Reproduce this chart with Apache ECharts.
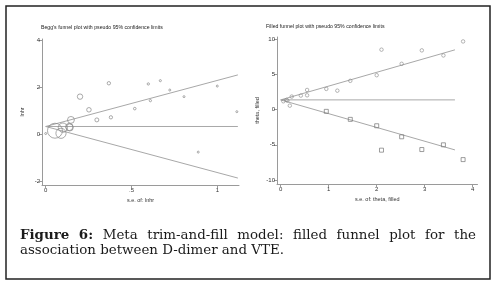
<!DOCTYPE html>
<html><head><meta charset="utf-8">
<script src="https://cdn.jsdelivr.net/npm/echarts@6/dist/echarts.min.js"></script>
<style>html,body{margin:0;padding:0;background:#fff}#c{width:496px;height:287px}</style>
</head><body><div id="c"></div>
<script>
// ---- Left panel: Begg's funnel plot ----
const beggSe     = [0.000,0.054,0.089,0.100,0.137,0.140,0.147,0.200,0.252,0.298,0.368,0.380,0.519,0.598,0.610,0.668,0.723,0.806,0.889,1.000,1.114];
const beggLnhr   = [0.02, 0.14, 0.03, 0.27, 0.30, 0.28, 0.60, 1.59, 1.03, 0.60, 2.16, 0.71, 1.08, 2.13, 1.42, 2.27, 1.87, 1.59,-0.77, 2.04, 0.95];
const beggPooled = 0.32;
const beggSeMax  = 1.12;
const beggXTicks = [0, 0.5, 1];
const beggYTicks = [-2, 0, 2, 4];

// ---- Right panel: filled funnel plot ----
const obsSe      = [0.055,0.12,0.14,0.19,0.23,0.42,0.55,0.55,0.95,1.18,1.45,2.00,2.10,2.52,2.94,3.39,3.80];
const obsTheta   = [1.19, 1.38,1.29,0.57,1.86,2.00,2.04,2.80,2.95,2.70,4.10,4.90,8.53,6.52,8.43,7.71,9.70];
const fillSe     = [0.95, 1.45, 2.00, 2.10, 2.52, 2.94, 3.39, 3.80];
const fillTheta  = [-0.24,-1.38,-2.29,-5.76,-3.86,-5.67,-5.00,-7.10];
const filledPooled = 1.39;
const filledSeMax  = 3.63;
const filledXTicks = [0, 1, 2, 3, 4];
const filledYTicks = [-10, -5, 0, 5, 10];

const captionLine1 = ['Figure 6:', 'Meta trim-and-fill model: filled funnel plot for the'];
const captionLine2 = 'association between D-dimer and VTE.';

// ------------------------------------------------------------
const zip = (a, b) => a.map((v, i) => [v, b[i]]);
const axisCol = '#9a9a9a', txtCol = '#333', sans = 'Liberation Sans';
const Z = 1.96;

function ciLines(pooled, seMax, xi, yi) {
  const base = {type: 'line', xAxisIndex: xi, yAxisIndex: yi, symbol: 'none', silent: true,
    lineStyle: {color: '#a8a8a8', width: 1}, z: 1, animation: false};
  return [
    Object.assign({}, base, {data: [[0, pooled], [seMax, pooled]]}),
    Object.assign({}, base, {data: [[0, pooled], [seMax, pooled + Z * seMax]]}),
    Object.assign({}, base, {data: [[0, pooled], [seMax, pooled - Z * seMax]]})
  ];
}
function xAxisCfg(idx, min, max, ticks, name, fmt) {
  return {type: 'value', gridIndex: idx, min, max, name, nameLocation: 'middle', nameGap: 9,
    nameTextStyle: {fontSize: 5.5, color: txtCol, fontFamily: sans},
    axisLine: {onZero: false, lineStyle: {color: axisCol, width: 1}},
    axisTick: {length: 3, lineStyle: {color: axisCol}, customValues: ticks},
    axisLabel: {fontSize: 6, color: txtCol, margin: 2, fontFamily: sans, customValues: ticks, formatter: fmt},
    splitLine: {show: false}};
}
function yAxisCfg(idx, min, max, ticks, name) {
  return {type: 'value', gridIndex: idx, min, max, name, nameLocation: 'middle', nameGap: 17,
    nameTextStyle: {fontSize: 5.5, color: txtCol, fontFamily: sans},
    axisLine: {show: true, onZero: false, lineStyle: {color: axisCol, width: 1}},
    axisTick: {show: true, length: 3, lineStyle: {color: axisCol}, customValues: ticks},
    axisLabel: {fontSize: 6, color: txtCol, margin: 2, fontFamily: sans, customValues: ticks},
    splitLine: {show: false}};
}
function beggSize(v) {
  const se = v[0];
  if (se < 0.01) return 2;
  return Math.max(2, Math.min(16, 1.56 * Math.pow(se, -0.775)));
}

// justified caption
const capFont = '"DejaVu Serif"', capSize = 13.4;
const cv = document.createElement('canvas').getContext('2d');
function tw(t, bold) { cv.font = (bold ? 'bold ' : '') + capSize + 'px ' + capFont; return cv.measureText(t).width; }
const words = [];
captionLine1[0].split(' ').forEach(w => words.push({t: w, b: true}));
captionLine1[1].split(' ').forEach(w => words.push({t: w, b: false}));
const capLeft = 20, capRight = 476;
const totalW = words.reduce((s, w) => s + tw(w.t, w.b), 0);
const gap = (capRight - capLeft - totalW) / (words.length - 1);
const capGraphics = [];
let cx = capLeft;
words.forEach(w => {
  capGraphics.push({type: 'text', left: cx, top: 229, silent: true,
    style: {text: w.t, fontFamily: capFont, fontSize: capSize, fontWeight: w.b ? 'bold' : 'normal', fill: '#1a1a1a'}});
  cx += tw(w.t, w.b) + gap;
});
capGraphics.push({type: 'text', left: capLeft, top: 244.5, silent: true,
  style: {text: captionLine2, fontFamily: capFont, fontSize: capSize, fill: '#1a1a1a'}});

const chart = echarts.init(document.getElementById('c'), null, {renderer: 'canvas'});
chart.setOption({
  backgroundColor: '#fff',
  animation: false,
  grid: [
    {left: 42, top: 39, width: 197, height: 146},
    {left: 277, top: 37, width: 200.5, height: 147}
  ],
  xAxis: [
    xAxisCfg(0, -0.0216, 1.1265, beggXTicks, 's.e. of: lnhr', v => (v === 0.5 ? '.5' : String(v))),
    xAxisCfg(1, -0.077, 4.1, filledXTicks, 's.e. of: theta, filled', v => String(v))
  ],
  yAxis: [
    yAxisCfg(0, -2.17, 4.043, beggYTicks, 'lnhr'),
    yAxisCfg(1, -10.57, 10.33, filledYTicks, 'theta, filled')
  ],
  graphic: [
    {type: 'rect', shape: {x: 6, y: 6, width: 484, height: 273}, silent: true,
      style: {fill: 'none', stroke: '#222', lineWidth: 1.5}},
    {type: 'text', left: 41, top: 25, silent: true,
      style: {text: "Begg's funnel plot with pseudo 95% confidence limits", fontFamily: sans, fontSize: 5.2, fill: '#222'}},
    {type: 'text', left: 266, top: 24.5, silent: true,
      style: {text: 'Filled funnel plot with pseudo 95% confidence limits', fontFamily: sans, fontSize: 5.2, fill: '#222'}}
  ].concat(capGraphics),
  series: [
    ...ciLines(beggPooled, beggSeMax, 0, 0),
    {type: 'scatter', xAxisIndex: 0, yAxisIndex: 0, data: zip(beggSe, beggLnhr), symbol: 'circle',
      symbolSize: beggSize, itemStyle: {color: 'rgba(0,0,0,0)', borderColor: '#888', borderWidth: 0.9}, z: 3},
    ...ciLines(filledPooled, filledSeMax, 1, 1),
    {type: 'scatter', xAxisIndex: 1, yAxisIndex: 1, data: zip(obsSe, obsTheta), symbol: 'circle',
      symbolSize: 3.5, itemStyle: {color: 'rgba(0,0,0,0)', borderColor: '#8a8a8a', borderWidth: 0.8}, z: 3},
    {type: 'scatter', xAxisIndex: 1, yAxisIndex: 1, data: zip(fillSe, fillTheta), symbol: 'rect',
      symbolSize: 4, itemStyle: {color: 'rgba(0,0,0,0)', borderColor: '#777', borderWidth: 0.9}, z: 3}
  ]
});
</script></body></html>
